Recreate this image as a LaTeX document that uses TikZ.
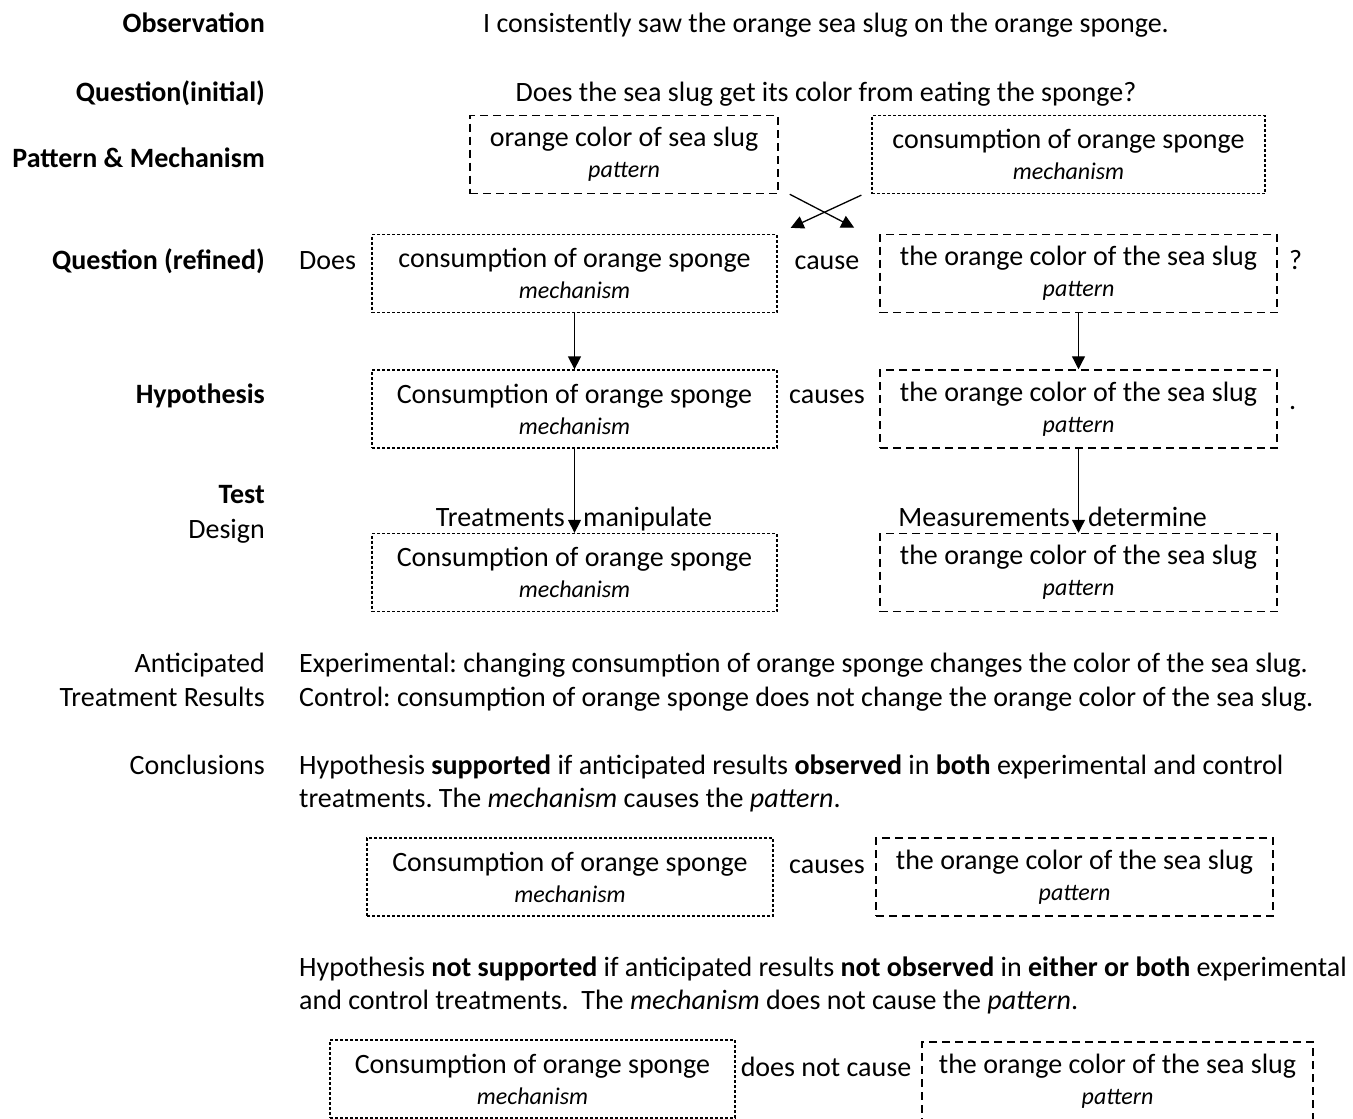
\documentclass[tikz,border=0pt]{standalone}
\usepackage{fontspec}
\setmainfont{Carlito}
\usetikzlibrary{arrows.meta,positioning}
\frenchspacing

\newcommand{\mainsize}{\fontsize{28}{31}\selectfont}
\newcommand{\role}[1]{{\fontsize{24}{31}\selectfont\itshape #1}}

\tikzset{
  mechbox/.style={draw,dash pattern=on 3pt off 2pt,line width=1.3pt,minimum height=78pt,inner sep=0pt,align=center},
  patbox/.style={draw,dash pattern=on 8pt off 5pt,line width=1.5pt,minimum height=78pt,inner sep=0pt,align=center},
  lbl/.style={anchor=base east,inner xsep=0pt,font=\mainsize\bfseries},
  rlbl/.style={anchor=base east,inner xsep=0pt},
  txt/.style={anchor=base west,inner xsep=0pt},
  word/.style={anchor=base},
  arr/.style={-{Triangle[length=13pt,width=13pt]},line width=1.3pt},
}

\begin{document}
\begin{tikzpicture}[x=1pt,y=-1pt,font=\mainsize]
    \useasboundingbox (0,0) rectangle (1353,1119);
    % row labels
    \node[lbl] (obs) at (265,32) {Observation};
    \node[lbl] (qinit) at (265,101) {Question(initial)};
    \node[lbl] (patmech) at (265,167) {Pattern \& Mechanism};
    \node[lbl] (qref) at (265,269) {Question (refined)};
    \node[lbl] (hyp) at (265,403) {Hypothesis};
    \node[lbl] (test) at (265,503) {Test};
    \node[rlbl] (design) at (265,538) {Design};
    \node[rlbl] (antic) at (265,672) {Anticipated};
    \node[rlbl] (treat) at (265,706) {Treatment Results};
    \node[rlbl] (concl) at (265,774) {Conclusions};

    % observation and question
    \node[word] (obstext) at (826,32) {I consistently saw the orange sea slug on the orange sponge.};
    \node[word] (qtext) at (826,101) {Does the sea slug get its color from eating the sponge?};

    % pattern and mechanism
    \node[patbox,minimum width=308pt] (pm-pat) at (624,154.5) {orange color of sea slug\\\role{pattern}};
    \node[mechbox,minimum width=393pt] (pm-mech) at (1068.5,154.5) {consumption of orange sponge\\\role{mechanism}};

    % refined question
    \node[txt] (does) at (299,269) {Does};
    \node[mechbox,minimum width=405pt] (ref-mech) at (574.5,273.5) {consumption of orange sponge\\\role{mechanism}};
    \node[word] (cause) at (827,269) {cause};
    \node[patbox,minimum width=397pt] (ref-pat) at (1078.5,273.5) {the orange color of the sea slug\\\role{pattern}};
    \node[txt] (qmark) at (1289,269) {?};

    \draw[arr] ([xshift=11pt]pm-pat.south east) -- ([xshift=-25pt,yshift=6pt]ref-pat.north west);
    \draw[arr] ([xshift=-10pt,yshift=-1pt]pm-mech.south west) -- ([xshift=13pt,yshift=6pt]ref-mech.north east);

    % hypothesis
    \node[mechbox,minimum width=405pt] (hyp-mech) at (574.5,409) {Consumption of orange sponge\\\role{mechanism}};
    \node[word] (causes) at (827,403) {causes};
    \node[patbox,minimum width=397pt] (hyp-pat) at (1078.5,409) {the orange color of the sea slug\\\role{pattern}};
    \node[txt] (dot) at (1289,409) {.};

    \draw[arr] (ref-mech) -- (hyp-mech);
    \draw[arr] (ref-pat) -- (hyp-pat);

    % test design
    \node[mechbox,minimum width=405pt] (test-mech) at (574.5,572.5) {Consumption of orange sponge\\\role{mechanism}};
    \node[patbox,minimum width=397pt] (test-pat) at (1078.5,572.5) {the orange color of the sea slug\\\role{pattern}};
    \node[rlbl] (treatm) at (565,526) {Treatments};
    \node[txt] (manip) at (583,526) {manipulate};
    \node[rlbl] (measure) at (1070,526) {Measurements};
    \node[txt] (determ) at (1088,526) {determine};

    \draw[arr] (hyp-mech) -- (test-mech);
    \draw[arr] (hyp-pat) -- (test-pat);

    % anticipated results
    \node[txt] (exper) at (299,672) {Experimental: changing consumption of orange sponge changes the color of the sea slug.};
    \node[txt] (contr) at (299,706) {Control: consumption of orange sponge does not change the orange color of the sea slug.};

    % conclusions
    \node[txt] (supp1) at (299,774) {Hypothesis \textbf{supported} if anticipated results \textbf{observed} in \textbf{both} experimental and control};
    \node[txt] (supp2) at (299,807) {treatments. The \textit{mechanism} causes the \textit{pattern}.};
    \node[mechbox,minimum width=406pt] (con-mech) at (570,877) {Consumption of orange sponge\\\role{mechanism}};
    \node[word] (causes2) at (827,873) {causes};
    \node[patbox,minimum width=397pt] (con-pat) at (1074.5,877) {the orange color of the sea slug\\\role{pattern}};

    \node[txt] (nsupp1) at (299,976) {Hypothesis \textbf{not supported} if anticipated results \textbf{not observed} in \textbf{either or both} experimental};
    \node[txt] (nsupp2) at (299,1009) {and control treatments.\ \ The \textit{mechanism} does not cause the \textit{pattern}.};
    \node[mechbox,minimum width=405pt] (no-mech) at (532.5,1079) {Consumption of orange sponge\\\role{mechanism}};
    \node[word] (notcause) at (826,1076) {does not cause};
    \node[patbox,minimum width=391pt] (no-pat) at (1117.5,1081) {the orange color of the sea slug\\\role{pattern}};
\end{tikzpicture}
\end{document}
